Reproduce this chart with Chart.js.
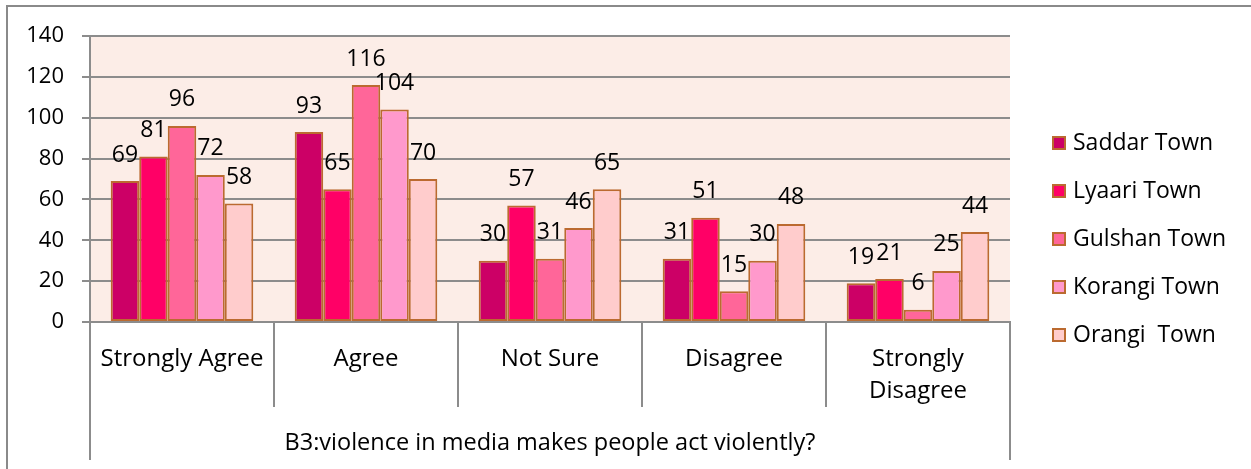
<!DOCTYPE html>
<html>
<head>
<meta charset="utf-8">
<script src="https://cdn.jsdelivr.net/npm/chart.js@4.4.0/dist/chart.umd.min.js"></script>
<style>
  html, body { margin: 0; padding: 0; background: #fff; }
  #wrap { width: 1251px; height: 469px; }
</style>
</head>
<body>
<div id="wrap"><canvas id="chart" width="1251" height="469"></canvas></div>
<script>
// ===== data =====
const categories = ['Strongly Agree', 'Agree', 'Not Sure', 'Disagree', ['Strongly', 'Disagree']];
const towns = ['Saddar Town', 'Lyaari Town', 'Gulshan Town', 'Korangi Town', 'Orangi  Town'];
const saddar = [69, 93, 30, 31, 19];
const lyaari = [81, 65, 57, 51, 21];
const gulshan = [96, 116, 31, 15, 6];
const korangi = [72, 104, 46, 30, 25];
const orangi = [58, 70, 65, 48, 44];
const yTicks = [0, 20, 40, 60, 80, 100, 120, 140];
const axisTitle = 'B3:violence in media makes people act violently?';

// ===== styles =====
const townColors = ['#CC0066', '#FF0066', '#FF6699', '#FF99CC', '#FFCCCC'];
const FONT = "'Open Sans', sans-serif";
const GRID = '#8c8c8c';
const EDGE = '#bb6a30';

const series = [saddar, lyaari, gulshan, korangi, orangi];

// frame + plot background
const backPlugin = {
  id: 'back',
  beforeDraw(chart) {
    const { ctx, chartArea: a } = chart;
    ctx.save();
    ctx.strokeStyle = '#8a8a8a';
    ctx.lineWidth = 2;
    ctx.strokeRect(7, 6, 1400, 600);
    ctx.fillStyle = '#fcede7';
    ctx.fillRect(a.left, a.top, a.right - a.left, a.bottom - a.top);
    ctx.restore();
  }
};

// value labels above bars
const valuePlugin = {
  id: 'values',
  afterDatasetsDraw(chart) {
    const ctx = chart.ctx;
    ctx.save();
    ctx.font = `23px ${FONT}`;
    ctx.fillStyle = '#000';
    ctx.textAlign = 'center';
    ctx.textBaseline = 'middle';
    chart.data.datasets.forEach((ds, i) => {
      chart.getDatasetMeta(i).data.forEach((bar, j) => {
        ctx.fillText(ds.data[j], bar.x, bar.y - 26);
      });
    });
    ctx.restore();
  }
};

// outer category lines + legend
const extraPlugin = {
  id: 'extra',
  afterDraw(chart) {
    const { ctx, scales: { x } } = chart;
    ctx.save();
    ctx.strokeStyle = GRID;
    ctx.lineWidth = 2;
    [x.left, x.right].forEach(px => {
      ctx.beginPath();
      ctx.moveTo(px, x.top);
      ctx.lineTo(px, 460);
      ctx.stroke();
    });

    ctx.font = `23px ${FONT}`;
    ctx.textAlign = 'left';
    ctx.textBaseline = 'middle';
    towns.forEach((t, i) => {
      const y = 143 + i * 48;
      ctx.fillStyle = townColors[i];
      ctx.fillRect(1053, y - 6, 12, 12);
      ctx.strokeStyle = EDGE;
      ctx.lineWidth = 2;
      ctx.strokeRect(1053, y - 6, 12, 12);
      ctx.fillStyle = '#000';
      ctx.fillText(t, 1073, y);
    });
    ctx.restore();
  }
};

new Chart(document.getElementById('chart'), {
  type: 'bar',
  data: {
    labels: categories,
    datasets: series.map((d, i) => ({
      label: towns[i],
      data: d,
      backgroundColor: townColors[i],
      borderColor: EDGE,
      borderWidth: 2,
      borderSkipped: false,
      categoryPercentage: 0.775,
      barPercentage: 1
    }))
  },
  options: {
    responsive: false,
    animation: false,
    devicePixelRatio: 1,
    layout: { padding: { top: 36, right: 241, left: 0, bottom: 0 } },
    plugins: {
      legend: { display: false },
      tooltip: { enabled: false }
    },
    scales: {
      x: {
        offset: true,
        grid: { display: true, offset: true, drawOnChartArea: false, tickLength: 85, color: GRID, lineWidth: 2 },
        border: { display: true, color: GRID, width: 2 },
        ticks: {
          font: { family: FONT, size: 24, lineHeight: 1.3 },
          color: '#000',
          padding: -63,
          maxRotation: 0,
          autoSkip: false
        },
        title: {
          display: true,
          text: axisTitle,
          color: '#000',
          font: { family: FONT, size: 23.5, lineHeight: 1.2 },
          padding: { top: 0, bottom: 12 }
        },
        afterFit: s => { s.height = 147; }
      },
      y: {
        min: 0,
        max: 140,
        afterBuildTicks: s => { s.ticks = yTicks.map(v => ({ value: v })); },
        ticks: { font: { family: FONT, size: 22 }, color: '#000', padding: 18 },
        grid: { color: GRID, lineWidth: 2, tickLength: 8 },
        border: { display: true, color: GRID, width: 2 },
        afterFit: s => { s.width = 90; }
      }
    }
  },
  plugins: [backPlugin, valuePlugin, extraPlugin]
});
</script>
</body>
</html>
